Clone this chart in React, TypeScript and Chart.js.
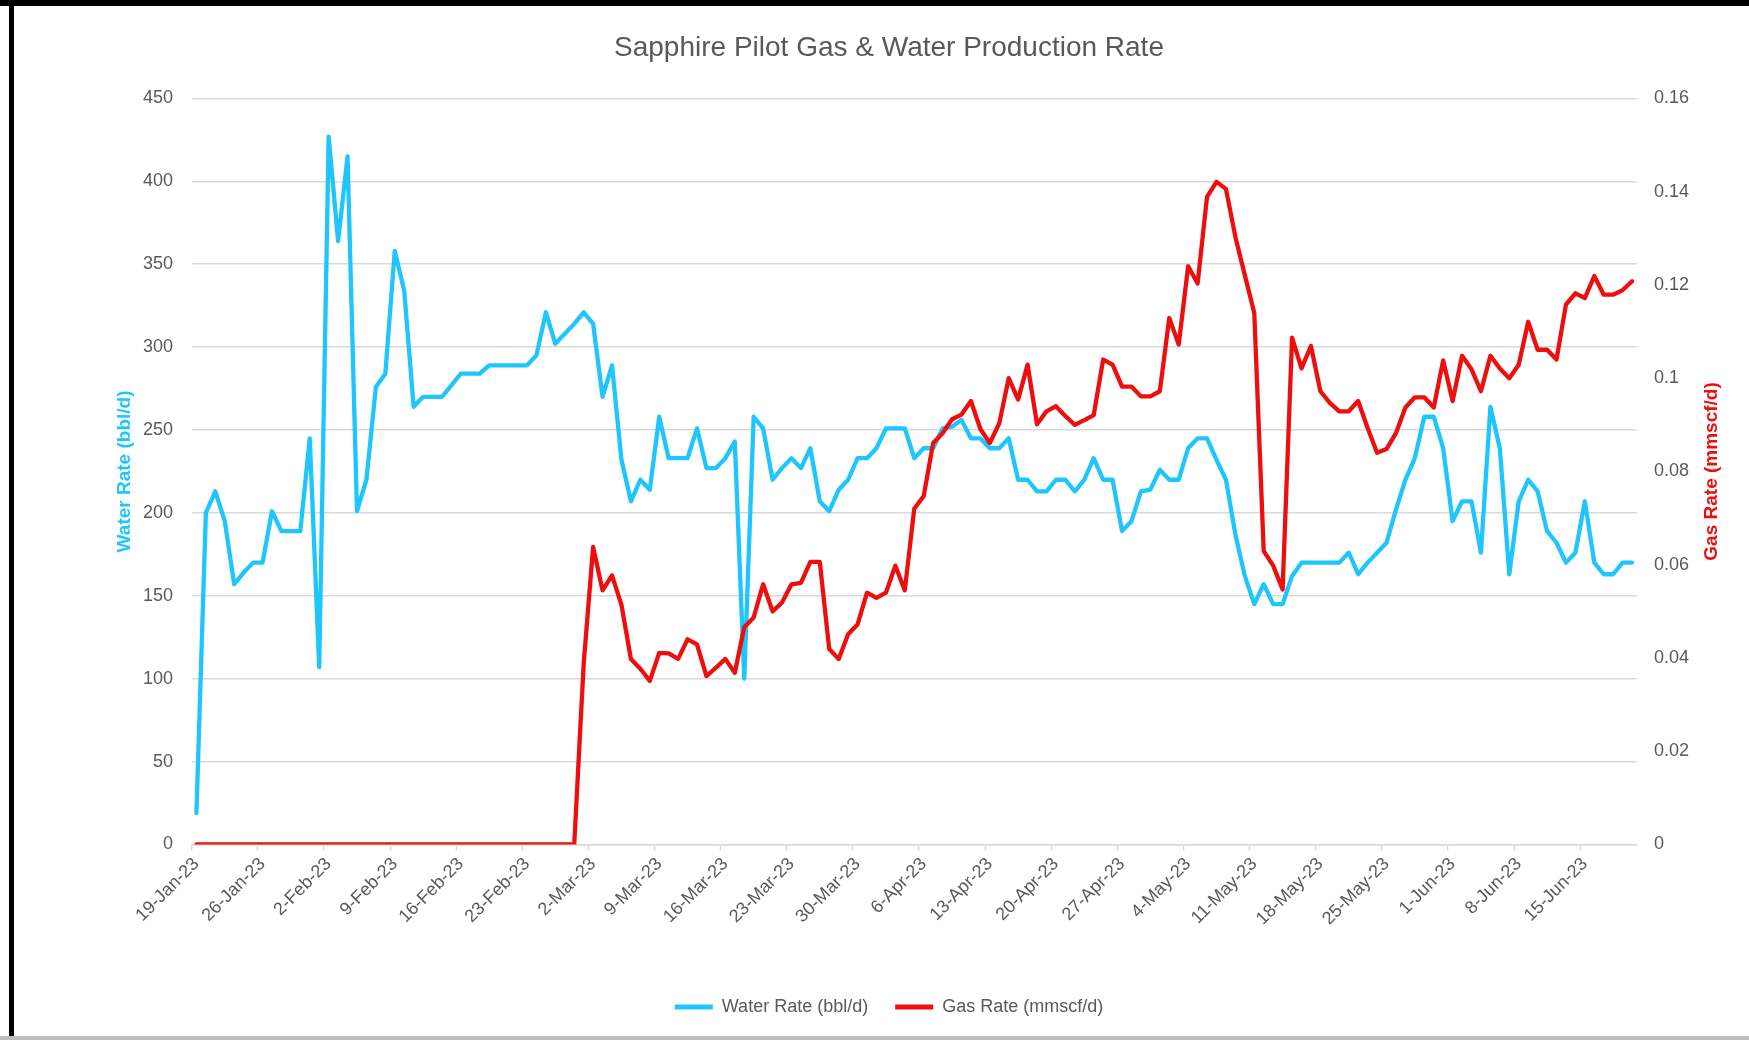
import { useEffect, useRef } from 'react';
import { Chart, registerables } from 'chart.js';

Chart.register(...registerables);

// Daily values, 19-Jan-23 .. 20-Jun-23 (153 days)
const waterRate = [
  19, 200, 213, 195, 157, 164, 170,
  170, 201, 189, 189, 189, 245, 107,
  427, 364, 415, 201, 220, 276, 284,
  358, 334, 264, 270, 270, 270, 277,
  284, 284, 284, 289, 289, 289, 289,
  289, 295, 321, 302, 308, 314, 321,
  314, 270, 289, 232, 207, 220, 214,
  258, 233, 233, 233, 251, 227, 227,
  233, 243, 100, 258, 251, 220, 227,
  233, 227, 239, 207, 201, 214, 220,
  233, 233, 239, 251, 251, 251, 233,
  239, 239, 251, 252, 256, 245, 245,
  239, 239, 245, 220, 220, 213, 213,
  220, 220, 213, 220, 233, 220, 220,
  189, 195, 213, 214, 226, 220, 220,
  239, 245, 245, 232, 220, 187, 162,
  145, 157, 145, 145, 162, 170, 170,
  170, 170, 170, 176, 163, 170, 176,
  182, 202, 220, 233, 258, 258, 239,
  195, 207, 207, 176, 264, 239, 163,
  207, 220, 213, 189, 182, 170, 176,
  207, 170, 163, 163, 170, 170,
];

const gasRate = [
  0, 0, 0, 0, 0, 0, 0,
  0, 0, 0, 0, 0, 0, 0,
  0, 0, 0, 0, 0, 0, 0,
  0, 0, 0, 0, 0, 0, 0,
  0, 0, 0, 0, 0, 0, 0,
  0, 0, 0, 0, 0, 0, 0.0387,
  0.0638, 0.0545, 0.0577, 0.0514, 0.0398, 0.0377, 0.0351,
  0.0411, 0.0410, 0.0398, 0.0440, 0.0429, 0.0361, 0.0379,
  0.0398, 0.0368, 0.0466, 0.0487, 0.0558, 0.0500, 0.0519,
  0.0558, 0.0561, 0.0606, 0.0606, 0.0419, 0.0398, 0.0451,
  0.0472, 0.0540, 0.0529, 0.0540, 0.0598, 0.0545, 0.0720,
  0.0747, 0.0861, 0.0882, 0.0912, 0.0922, 0.0951, 0.0891,
  0.0861, 0.0903, 0.1000, 0.0954, 0.1029, 0.0901, 0.0929,
  0.0940, 0.0919, 0.0900, 0.0910, 0.0921, 0.1040, 0.1029,
  0.0982, 0.0982, 0.0961, 0.0961, 0.0972, 0.1129, 0.1072,
  0.1240, 0.1203, 0.1389, 0.1421, 0.1406, 0.1303, 0.1221,
  0.1140, 0.0629, 0.0598, 0.0547, 0.1087, 0.1021, 0.1069,
  0.0972, 0.0947, 0.0929, 0.0929, 0.0951, 0.0893, 0.0840,
  0.0848, 0.0882, 0.0937, 0.0959, 0.0959, 0.0937, 0.1038,
  0.0951, 0.1048, 0.1019, 0.0972, 0.1048, 0.1021, 0.1000,
  0.1029, 0.1121, 0.1061, 0.1061, 0.1040, 0.1158, 0.1182,
  0.1172, 0.1219, 0.1179, 0.1179, 0.1189, 0.1208,
];

const MONTHS = ['Jan', 'Feb', 'Mar', 'Apr', 'May', 'Jun', 'Jul', 'Aug', 'Sep', 'Oct', 'Nov', 'Dec'];
const dateLabels = waterRate.map((_, i) => {
  const d = new Date(2023, 0, 19 + i);
  return `${d.getDate()}-${MONTHS[d.getMonth()]}-23`;
});
const TICK_EVERY = 7;

const WATER_TITLE = 'Water Rate (bbl/d)';
const GAS_TITLE = 'Gas Rate (mmscf/d)';

const WATER_COLOR = '#1EC6FD';
const GAS_COLOR = '#EE0E0E';
const TEXT_COLOR = '#595959';
const GRID_COLOR = '#D9D9D9';
const FONT = "'Liberation Sans', Arial, sans-serif";

// Right axis title reading bottom-to-top (as in the reference)
const gasTitlePlugin = {
  id: 'gasTitle',
  afterDraw(chart: any) {
    const s = chart.scales.yGas;
    if (!s) return;
    const ctx = chart.ctx;
    ctx.save();
    ctx.translate(s.right - 12, (s.top + s.bottom) / 2);
    ctx.rotate(-Math.PI / 2);
    ctx.fillStyle = GAS_COLOR;
    ctx.font = `bold 19px ${FONT}`;
    ctx.textAlign = 'center';
    ctx.textBaseline = 'middle';
    ctx.fillText(GAS_TITLE, 0, 0);
    ctx.restore();
  },
};

export default function App() {
  const ref = useRef<HTMLCanvasElement>(null);

  useEffect(() => {
    const chart = new Chart(ref.current!, {
      type: 'line',
      data: {
        labels: dateLabels,
        datasets: [
          {
            label: WATER_TITLE,
            data: waterRate,
            borderColor: WATER_COLOR,
            backgroundColor: WATER_COLOR,
            borderWidth: 4.3,
            pointRadius: 0,
            tension: 0,
            borderJoinStyle: 'round',
            borderCapStyle: 'round',
            yAxisID: 'yWater',
            order: 2,
          },
          {
            label: GAS_TITLE,
            data: gasRate,
            borderColor: GAS_COLOR,
            backgroundColor: GAS_COLOR,
            borderWidth: 4.3,
            pointRadius: 0,
            tension: 0,
            borderJoinStyle: 'round',
            borderCapStyle: 'round',
            yAxisID: 'yGas',
            order: 1,
          },
        ],
      },
      options: {
        responsive: false,
        animation: false,
        events: [],
        layout: { padding: { left: 54, right: 25, top: 10, bottom: 14 } },
        plugins: {
          tooltip: { enabled: false },
          title: {
            display: true,
            text: 'Sapphire Pilot Gas & Water Production Rate',
            color: TEXT_COLOR,
            font: { family: FONT, size: 28, weight: 'normal' },
            padding: { top: 21.4, bottom: 33.4 },
          },
          legend: {
            position: 'bottom',
            labels: {
              boxWidth: 38,
              boxHeight: 5,
              padding: 27,
              color: TEXT_COLOR,
              font: { family: FONT, size: 18 },
              sort: (a: any, b: any) => a.datasetIndex - b.datasetIndex,
              generateLabels: (c: any) =>
                Chart.defaults.plugins.legend.labels
                  .generateLabels(c)
                  .map((it: any) => ({ ...it, fillStyle: it.strokeStyle, lineWidth: 0 })),
            },
          },
        },
        scales: {
          x: {
            type: 'category',
            offset: true,
            grid: {
              display: true,
              drawOnChartArea: false,
              drawTicks: true,
              tickLength: 6,
              offset: true,
              tickWidth: 1.5,
              tickColor: (ctx: any) => (ctx.index % TICK_EVERY === 0 ? GRID_COLOR : 'rgba(0,0,0,0)'),
            },
            border: { display: true, color: GRID_COLOR, width: 1.5 },
            ticks: {
              autoSkip: false,
              minRotation: 45,
              maxRotation: 45,
              padding: 3,
              color: TEXT_COLOR,
              font: { family: FONT, size: 18 },
              callback: (_v: any, index: number) => (index % TICK_EVERY === 0 ? dateLabels[index] : ''),
            },
            afterFit: (s: any) => {
              s.height = 126.5;
            },
          },
          yWater: {
            type: 'linear',
            position: 'left',
            min: 0,
            max: 450,
            ticks: {
              stepSize: 50,
              padding: 18.7,
              color: TEXT_COLOR,
              font: { family: FONT, size: 18 },
            },
            grid: { color: GRID_COLOR, lineWidth: 1.5, drawTicks: false },
            border: { display: false },
            title: {
              display: true,
              text: WATER_TITLE,
              color: WATER_COLOR,
              font: { family: FONT, size: 19, weight: 'bold' },
              padding: { top: 59.6, bottom: 0 },
            },
            afterFit: (s: any) => {
              s.width = 137.7;
            },
          },
          yGas: {
            type: 'linear',
            position: 'right',
            min: 0,
            max: 0.16,
            ticks: {
              stepSize: 0.02,
              padding: 17.2,
              color: TEXT_COLOR,
              font: { family: FONT, size: 18 },
              callback: (v: any) => String(Number(Number(v).toFixed(2))),
            },
            grid: { drawOnChartArea: false, drawTicks: false },
            border: { display: false },
            title: { display: false },
            afterFit: (s: any) => {
              s.width = 87.2;
            },
          },
        },
      } as any,
      plugins: [gasTitlePlugin],
    });
    return () => chart.destroy();
  }, []);

  return (
    <div style={{ position: 'fixed', left: 0, top: 0, width: 1749, height: 1040, background: '#fff', overflow: 'hidden' }}>
      <canvas ref={ref} width={1749} height={1040} style={{ display: 'block' }} />
      <div style={{ position: 'absolute', left: 0, top: 0, width: 1749, height: 6, background: '#000' }} />
      <div style={{ position: 'absolute', left: 9, top: 0, width: 5, height: 1040, background: '#000' }} />
      <div style={{ position: 'absolute', left: 0, top: 1036, width: 1749, height: 4, background: '#BFBFBF' }} />
    </div>
  );
}
